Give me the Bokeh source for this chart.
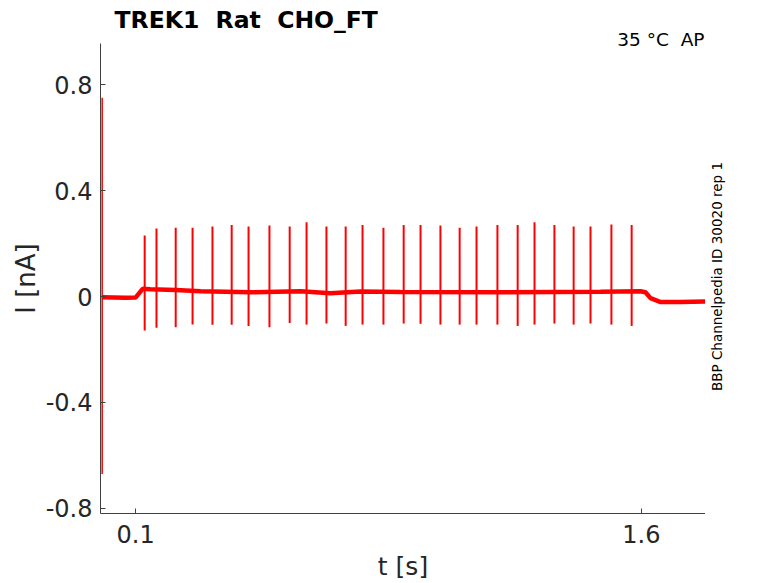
import math
from bokeh.plotting import figure
from bokeh.layouts import row
from bokeh.models import Range1d, FixedTicker, Title, Label
from bokeh.embed import file_html
from bokeh.resources import INLINE

# ---- data ----
base_t = [0.000, 0.070, 0.100, 0.121, 0.144, 0.219, 0.293, 0.441, 0.589, 0.678,
          0.767, 0.886, 1.182, 1.479, 1.597, 1.612, 1.627, 1.657, 1.716, 1.790]
base_v = [-0.003, -0.005, -0.004, 0.029, 0.027, 0.025, 0.020, 0.016, 0.020, 0.012,
          0.019, 0.017, 0.016, 0.018, 0.020, 0.016, -0.006, -0.021, -0.021, -0.019]

spike_t = [0.127, 0.162, 0.219, 0.269, 0.328, 0.385, 0.435, 0.497, 0.557, 0.607,
           0.666, 0.723, 0.773, 0.835, 0.895, 0.945, 1.004, 1.061, 1.111, 1.173,
           1.233, 1.283, 1.342, 1.399, 1.449, 1.511, 1.571]
spike_peak = [0.230, 0.257, 0.260, 0.260, 0.264, 0.270, 0.264, 0.268, 0.264, 0.280,
              0.264, 0.264, 0.270, 0.260, 0.270, 0.270, 0.268, 0.260, 0.264, 0.270,
              0.270, 0.280, 0.270, 0.264, 0.264, 0.272, 0.270]
spike_trough = [-0.128, -0.118, -0.116, -0.106, -0.107, -0.107, -0.111, -0.116, -0.100, -0.106,
                -0.102, -0.111, -0.106, -0.106, -0.102, -0.103, -0.106, -0.106, -0.106, -0.106,
                -0.111, -0.106, -0.102, -0.106, -0.102, -0.106, -0.111]

transient_t = [0.001]
transient_hi = [0.75]
transient_lo = [-0.67]

x_ticks = [0.1, 1.6]
x_tick_labels = {0.1: "0.1", 1.6: "1.6"}
y_ticks = [-0.8, -0.4, 0.0, 0.4, 0.8]
y_tick_labels = {-0.8: "-0.8", -0.4: "-0.4", 0.0: "0", 0.4: "0.4", 0.8: "0.8"}

NB2 = "\u00a0\u00a0"
title_text = "TREK1" + NB2 + "Rat" + NB2 + "CHO_FT"
temp_text = "35 °C" + NB2 + "AP"
side_text = "BBP Channelpedia ID 30020 rep 1"
x_label = "t [s]"
y_label = "I [nA]"

RED = "#ff0000"
AX = "#404040"
TXT = "#262626"
FONT = "DejaVu Sans"
H = 581

p = figure(frame_width=605, frame_height=470, output_backend="svg", toolbar_location=None,
           x_range=Range1d(-0.004, 1.79), y_range=Range1d(-0.819, 0.955),
           title_location=None,
           min_border_left=100, min_border_right=0, min_border_top=43, min_border_bottom=68)
p.outline_line_color = None
p.grid.visible = False
p.background_fill_color = "white"
p.border_fill_color = "white"

# trace
p.line(base_t, base_v, line_color=RED, line_width=4.5)
p.segment(spike_t, spike_trough, spike_t, spike_peak, line_color=RED, line_width=2)
p.segment(transient_t, transient_lo, transient_t, transient_hi, line_color=RED, line_width=1.5)

for ax in (p.xaxis[0], p.yaxis[0]):
    ax.axis_line_color = AX
    ax.major_tick_line_color = AX
    ax.major_tick_in = 5
    ax.major_tick_out = 0
    ax.minor_tick_line_color = None
    ax.major_label_text_font = FONT
    ax.major_label_text_font_size = "24px"
    ax.major_label_text_color = TXT
    ax.axis_label_text_font = FONT
    ax.axis_label_text_font_style = "normal"
    ax.axis_label_text_color = TXT

p.xaxis.axis_label_text_font_size = "25px"
p.yaxis.axis_label_text_font_size = "26px"
p.xaxis.ticker = FixedTicker(ticks=x_ticks)
p.yaxis.ticker = FixedTicker(ticks=y_ticks)
p.yaxis.major_label_overrides = y_tick_labels
p.xaxis.major_label_overrides = x_tick_labels
p.xaxis.axis_label = x_label
p.yaxis.axis_label = y_label
p.yaxis.major_label_standoff = 8
p.yaxis.axis_label_standoff = 2
p.xaxis.major_label_standoff = 11
p.xaxis.axis_label_standoff = 6

# titles: first added sits closest to the frame
p.add_layout(Title(text=temp_text, align="right", offset=1, text_font=FONT, text_font_size="18.5px",
                   text_font_style="normal", text_color="black", standoff=-12), "above")
p.add_layout(Title(text=title_text, align="left", offset=14, text_font=FONT,
                   text_font_size="23.5px", text_font_style="bold", text_color="black",
                   standoff=-2), "above")

# narrow strip on the right carrying the vertical provenance text
s = figure(width=71, height=H, output_backend="svg", toolbar_location=None,
           x_axis_type=None, y_axis_type=None, title_location=None,
           min_border=0, x_range=Range1d(0, 1), y_range=Range1d(0, 1))
s.outline_line_color = None
s.grid.visible = False
s.add_layout(Label(x=11, y=235, x_units="screen", y_units="screen", text=side_text,
                   text_font=FONT, text_font_size="13.5px", text_color="black",
                   text_align="center", text_baseline="middle", angle=math.pi / 2))

layout = row(p, s, spacing=0)
open("out.html", "w").write(file_html(layout, INLINE))
